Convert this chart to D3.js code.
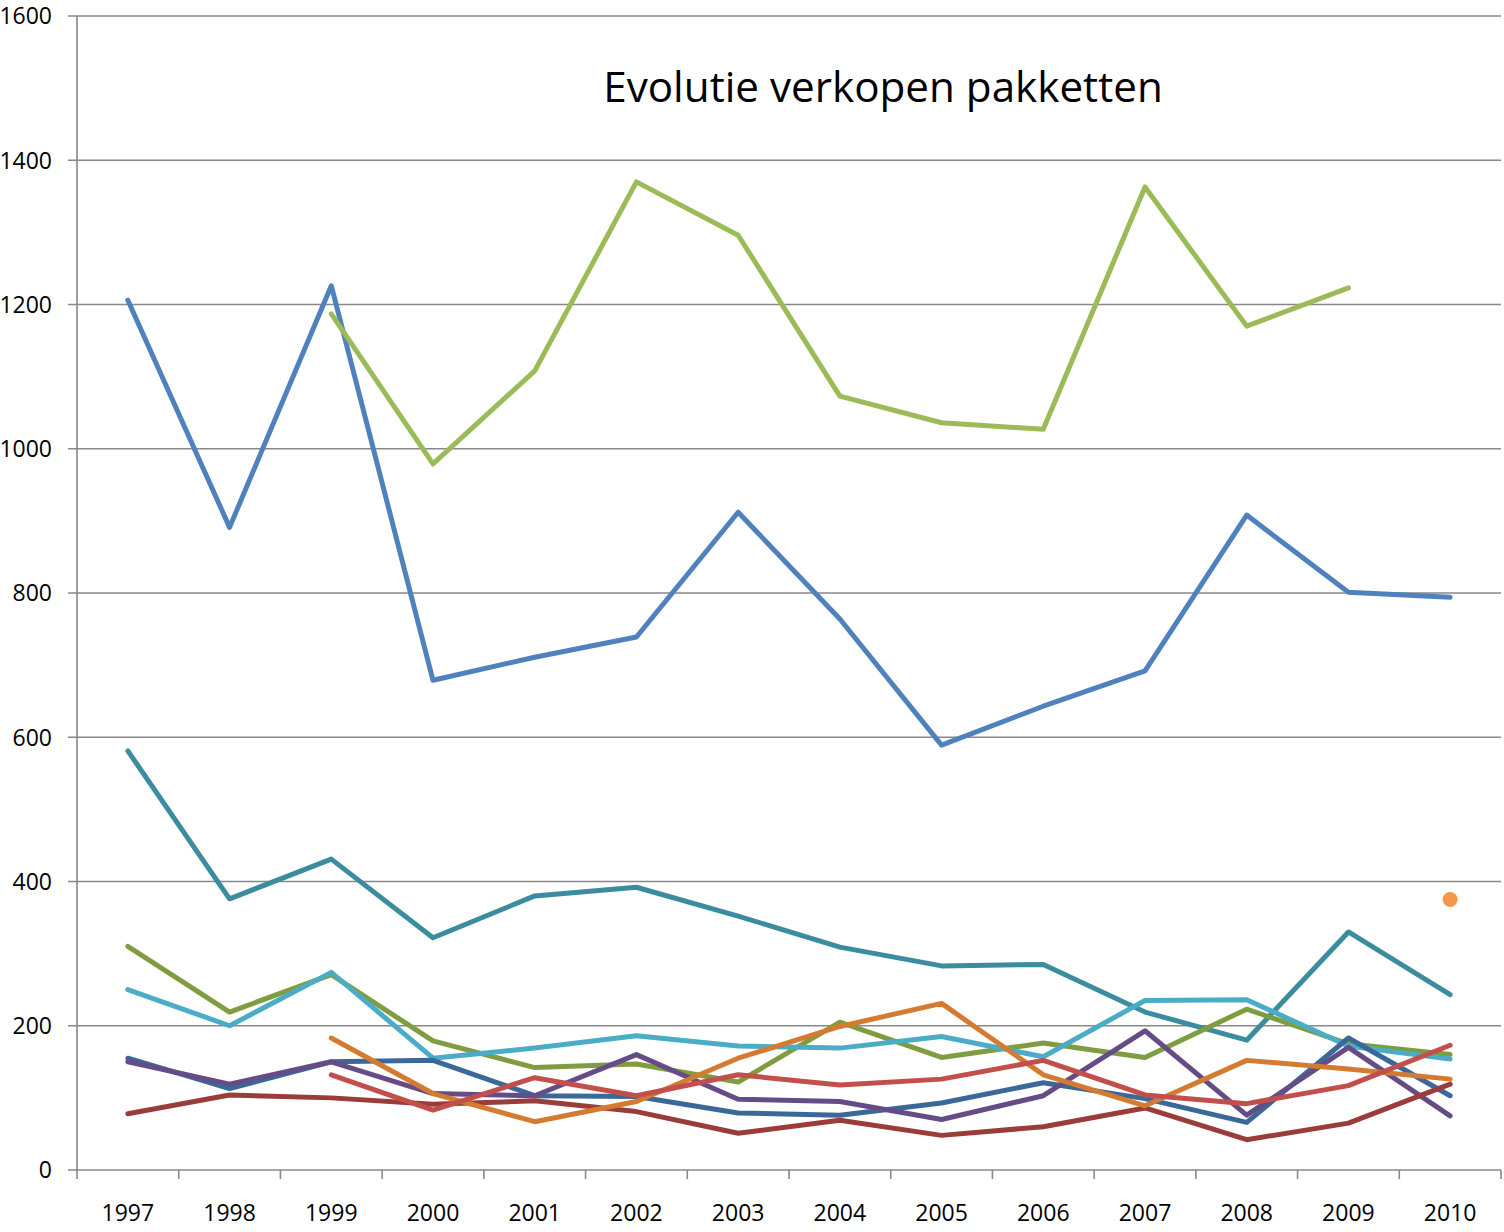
<!DOCTYPE html>
<html>
<head>
<meta charset="utf-8">
<script src="https://cdn.jsdelivr.net/npm/d3@7"></script>
<style>
  html, body { margin: 0; padding: 0; background: #fff; }
  svg { display: block; }
  text { font-family: "Open Sans", sans-serif; fill: #000; }
</style>
</head>
<body>
<svg id="chart" width="1504" height="1232"></svg>
<script>
const years = ["1997","1998","1999","2000","2001","2002","2003","2004","2005","2006","2007","2008","2009","2010"];
const yTicks = [0, 200, 400, 600, 800, 1000, 1200, 1400, 1600];
const titleText = "Evolutie verkopen pakketten";

const blueValues      = [1206, 891, 1226, 679, 711, 739, 912, 764, 589, 643, 692, 908, 801, 794];
const greenValues     = [null, null, 1187, 979, 1108, 1370, 1296, 1073, 1036, 1027, 1363, 1170, 1223, null];
const tealValues      = [581, 376, 431, 322, 380, 392, 352, 309, 283, 285, 219, 180, 330, 243];
const oliveValues     = [310, 219, 271, 179, 142, 147, 122, 205, 156, 176, 156, 223, 175, 160];
const aquaValues      = [250, 200, 274, 155, 169, 186, 172, 169, 185, 157, 235, 236, 172, 154];
const darkBlueValues  = [155, 113, 150, 152, 103, 102, 79, 76, 93, 121, 99, 66, 183, 103];
const purpleValues    = [150, 119, 150, 106, 103, 160, 98, 95, 70, 103, 193, 76, 170, 75];
const darkRedValues   = [78, 104, 100, 91, 96, 81, 51, 69, 48, 60, 86, 42, 65, 119];
const orangeValues    = [null, null, 183, 106, 67, 95, 155, 199, 231, 132, 89, 152, 140, 126];
const redValues       = [null, null, 132, 83, 128, 103, 132, 118, 126, 152, 104, 92, 117, 173];
const dotValues       = [null, null, null, null, null, null, null, null, null, null, null, null, null, 375];

const seriesList = [
  { name: "blue",     values: blueValues,     color: "#4F81BD" },
  { name: "green",    values: greenValues,    color: "#9BBB59" },
  { name: "teal",     values: tealValues,     color: "#3A8C9E" },
  { name: "olive",    values: oliveValues,    color: "#7F9D40" },
  { name: "aqua",     values: aquaValues,     color: "#4BACC6" },
  { name: "darkblue", values: darkBlueValues, color: "#3A6899" },
  { name: "purple",   values: purpleValues,   color: "#664C86" },
  { name: "darkred",  values: darkRedValues,  color: "#993C3A" },
  { name: "orange",   values: orangeValues,   color: "#D57A31" },
  { name: "red",      values: redValues,      color: "#C24F4C" }
];

const svg = d3.select("#chart");
const plotLeft = 77, plotRight = 1501, plotTop = 16, plotBottom = 1170;

const x = d3.scaleBand().domain(years).range([plotLeft, plotRight]).paddingInner(0).paddingOuter(0);
const y = d3.scaleLinear().domain([0, 1600]).range([plotBottom, plotTop]);
const cx = d => x(d) + x.bandwidth() / 2;

// gridlines + y ticks
svg.append("g").selectAll("line").data(yTicks).join("line")
  .attr("x1", plotLeft - 9).attr("x2", plotRight)
  .attr("y1", d => y(d)).attr("y2", d => y(d))
  .attr("stroke", "#888888").attr("stroke-width", 1.6);

svg.append("g").selectAll("text").data(yTicks).join("text")
  .attr("x", 52).attr("y", d => y(d))
  .attr("dy", "0.36em")
  .attr("text-anchor", "end")
  .attr("font-size", 23)
  .text(d => d);

// y axis line
svg.append("line")
  .attr("x1", plotLeft).attr("x2", plotLeft)
  .attr("y1", plotTop).attr("y2", plotBottom)
  .attr("stroke", "#888888").attr("stroke-width", 1.6);

// x axis ticks at band boundaries
const boundaries = years.map(d => x(d)).concat([plotRight]);
svg.append("g").selectAll("line").data(boundaries).join("line")
  .attr("x1", d => d).attr("x2", d => d)
  .attr("y1", plotBottom).attr("y2", plotBottom + 9)
  .attr("stroke", "#888888").attr("stroke-width", 1.6);

svg.append("g").selectAll("text").data(years).join("text")
  .attr("x", d => cx(d)).attr("y", 1213)
  .attr("dy", "0.36em")
  .attr("text-anchor", "middle")
  .attr("font-size", 23)
  .text(d => d);

// lines
const line = d3.line()
  .defined(d => d.v !== null)
  .x(d => cx(d.year))
  .y(d => y(d.v));

svg.append("g").selectAll("path").data(seriesList).join("path")
  .attr("d", s => line(s.values.map((v, i) => ({ year: years[i], v }))))
  .attr("fill", "none")
  .attr("stroke", s => s.color)
  .attr("stroke-width", 5)
  .attr("stroke-linejoin", "round")
  .attr("stroke-linecap", "round");

// single point
svg.append("g").selectAll("circle")
  .data(dotValues.map((v, i) => ({ year: years[i], v })).filter(d => d.v !== null))
  .join("circle")
  .attr("cx", d => cx(d.year)).attr("cy", d => y(d.v))
  .attr("r", 7.5)
  .attr("fill", "#F79646");

// title
svg.append("text")
  .attr("x", 883).attr("y", 102)
  .attr("text-anchor", "middle")
  .attr("font-size", 42.2)
  .text(titleText);
</script>
</body>
</html>
